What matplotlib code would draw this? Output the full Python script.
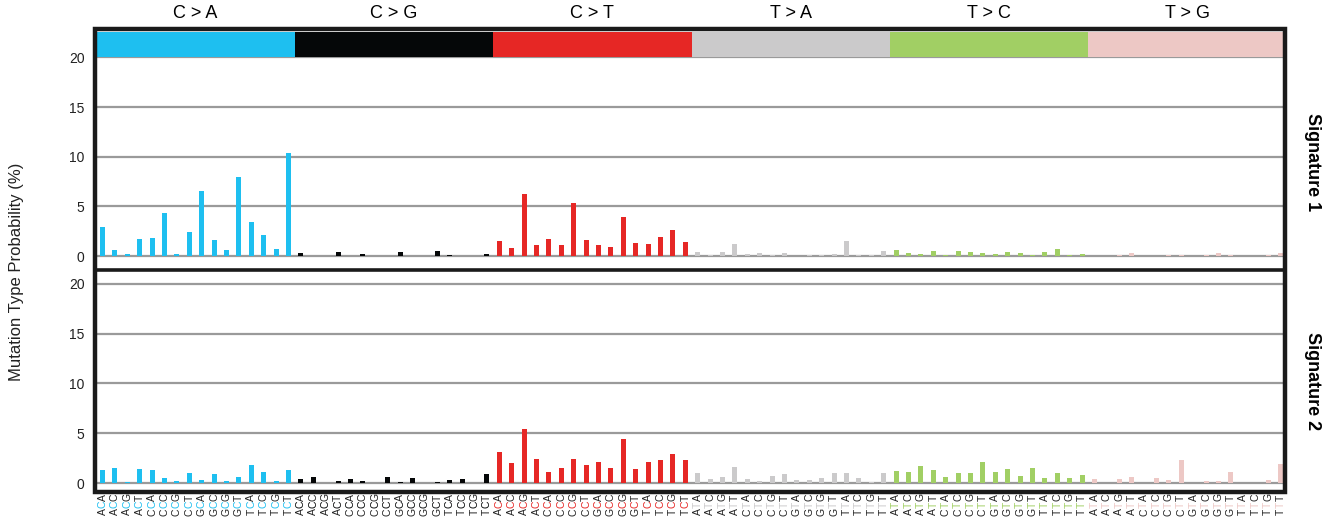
import matplotlib
matplotlib.use("Agg")
import matplotlib.pyplot as plt
from matplotlib.patches import Rectangle
from matplotlib.lines import Line2D
from matplotlib.transforms import blended_transform_factory

plt.rcParams['font.family'] = ['Liberation Sans', 'DejaVu Sans']

mutation_types = ["C > A", "C > G", "C > T", "T > A", "T > C", "T > G"]
type_colors = ["#1EBFF0", "#050708", "#E62725", "#CBCACB", "#A1CF64", "#EDC8C5"]
flank5 = ["A", "A", "A", "A", "C", "C", "C", "C", "G", "G", "G", "G", "T", "T", "T", "T"]
flank3 = ["A", "C", "G", "T"] * 4

sig1_CA = [2.9, 0.6, 0.2, 1.7, 1.8, 4.3, 0.2, 2.4, 6.6, 1.6, 0.6, 8.0, 3.4, 2.1, 0.7, 10.4]
sig1_CG = [0.3, 0.05, 0.02, 0.4, 0.05, 0.2, 0.02, 0.05, 0.45, 0.05, 0.02, 0.55, 0.1, 0.05, 0.02, 0.2]
sig1_CT = [1.5, 0.8, 6.3, 1.1, 1.75, 1.1, 5.35, 1.65, 1.1, 0.9, 3.95, 1.27, 1.17, 1.9, 2.6, 1.4]
sig1_TA = [0.37, 0.1, 0.37, 1.2, 0.2, 0.33, 0.1, 0.27, 0.05, 0.1, 0.1, 0.2, 1.5, 0.15, 0.15, 0.47]
sig1_TC = [0.6, 0.3, 0.2, 0.5, 0.13, 0.5, 0.43, 0.3, 0.2, 0.4, 0.3, 0.07, 0.4, 0.67, 0.1, 0.2]
sig1_TG = [0.05, 0.02, 0.1, 0.3, 0.02, 0.05, 0.1, 0.1, 0.02, 0.1, 0.3, 0.1, 0.02, 0.02, 0.15, 0.3]

sig2_CA = [1.3, 1.54, 0.14, 1.37, 1.27, 0.51, 0.2, 0.96, 0.34, 0.92, 0.17, 0.65, 1.85, 1.1, 0.2, 1.3]
sig2_CG = [0.45, 0.62, 0.02, 0.2, 0.38, 0.2, 0.02, 0.62, 0.14, 0.51, 0.02, 0.07, 0.3, 0.45, 0.02, 0.92]
sig2_CT = [3.1, 2.0, 5.4, 2.43, 1.1, 1.47, 2.4, 1.78, 2.16, 1.5, 4.45, 1.44, 2.09, 2.3, 2.9, 2.33]
sig2_TA = [1.03, 0.38, 0.58, 1.58, 0.38, 0.2, 0.72, 0.89, 0.31, 0.31, 0.55, 0.96, 1.03, 0.51, 0.07, 0.96]
sig2_TC = [1.2, 1.13, 1.68, 1.3, 0.65, 1.0, 1.0, 2.09, 1.06, 1.4, 0.68, 1.5, 0.51, 1.0, 0.55, 0.79]
sig2_TG = [0.45, 0.02, 0.38, 0.65, 0.02, 0.55, 0.31, 2.3, 0.05, 0.17, 0.2, 1.06, 0.05, 0.02, 0.27, 1.95]

signatures = [
    ("Signature 1", [sig1_CA, sig1_CG, sig1_CT, sig1_TA, sig1_TC, sig1_TG]),
    ("Signature 2", [sig2_CA, sig2_CG, sig2_CT, sig2_TA, sig2_TC, sig2_TG]),
]
yticks = [0, 5, 10, 15, 20]

W, H = 1338, 518
fig = plt.figure(figsize=(W / 100, H / 100), dpi=100)


def fx(px):
    return px / W


def fy(py):
    return 1 - py / H


XL, XR = 97, 1283
xlim = (-0.45, 95.2)

# colour strip with mutation-type headers
axs = fig.add_axes([fx(XL), fy(57), fx(XR) - fx(XL), 25 / H])
axs.set_xlim(*xlim)
axs.set_ylim(0, 1)
axs.axis("off")
strans = blended_transform_factory(axs.transData, fig.transFigure)
for g, (mt, c) in enumerate(zip(mutation_types, type_colors)):
    axs.axvspan(16 * g - 0.5, 16 * g + 15.5, color=c, lw=0)
    axs.text(16 * g + 7.5, fy(14), mt, transform=strans, ha="center", va="center", fontsize=13)

panels = [(57, 268, (-1.2, 20.05)), (271, 491, (-0.8, 21.3))]
last_ax = None
for (name, groups), (ptop, pbot, ylim) in zip(signatures, panels):
    ax = fig.add_axes([fx(XL), fy(pbot), fx(XR) - fx(XL), (pbot - ptop) / H])
    ax.set_xlim(*xlim)
    ax.set_ylim(*ylim)
    for s in ax.spines.values():
        s.set_visible(False)
    for yv in yticks:
        ax.axhline(yv, color="#9a9a9a", lw=1.6, zorder=1)
    for g, vals in enumerate(groups):
        xs = [16 * g + i for i in range(16)]
        ax.bar(xs, vals, width=0.4, color=type_colors[g], zorder=2, linewidth=0)
    ax.set_yticks(yticks)
    ax.set_yticklabels([str(v) for v in yticks], fontsize=10)
    ax.tick_params(axis="y", length=0, pad=9, colors="#222222")
    ax.set_xticks([])
    fig.text(fx(1313), fy((ptop + pbot) / 2), name, rotation=-90, fontsize=13, fontweight="bold",
             ha="center", va="center")
    last_ax = ax

# x tick labels (three characters, middle one coloured by mutation type)
trans = blended_transform_factory(last_ax.transData, fig.transFigure)
for g, mt in enumerate(mutation_types):
    ref = mt[0]
    for i in range(16):
        chars = [flank5[i], ref, flank3[i]]
        cols = ["#222222", type_colors[g], "#222222"]
        for k, (ch, cc) in enumerate(zip(chars, cols)):
            last_ax.text(16 * g + i, fy(512 - k * 7.3), ch, transform=trans, rotation=90,
                         ha="center", va="center", fontsize=7.5, color=cc, clip_on=False)

fig.text(fx(17), fy(272), "Mutation Type Probability (%)", rotation=90, ha="center", va="center",
         fontsize=12, color="#222222")

# frame and divider
fig.add_artist(Rectangle((fx(95), fy(492)), fx(1285) - fx(95), (492 - 29) / H, fill=False,
                         lw=3.2, edgecolor="#1a1a1a", transform=fig.transFigure, zorder=10))
fig.add_artist(Line2D([fx(95), fx(1285)], [fy(269.5), fy(269.5)], lw=2.6, color="#1a1a1a",
                      transform=fig.transFigure, zorder=10))

fig.savefig("out.png", dpi=100)
